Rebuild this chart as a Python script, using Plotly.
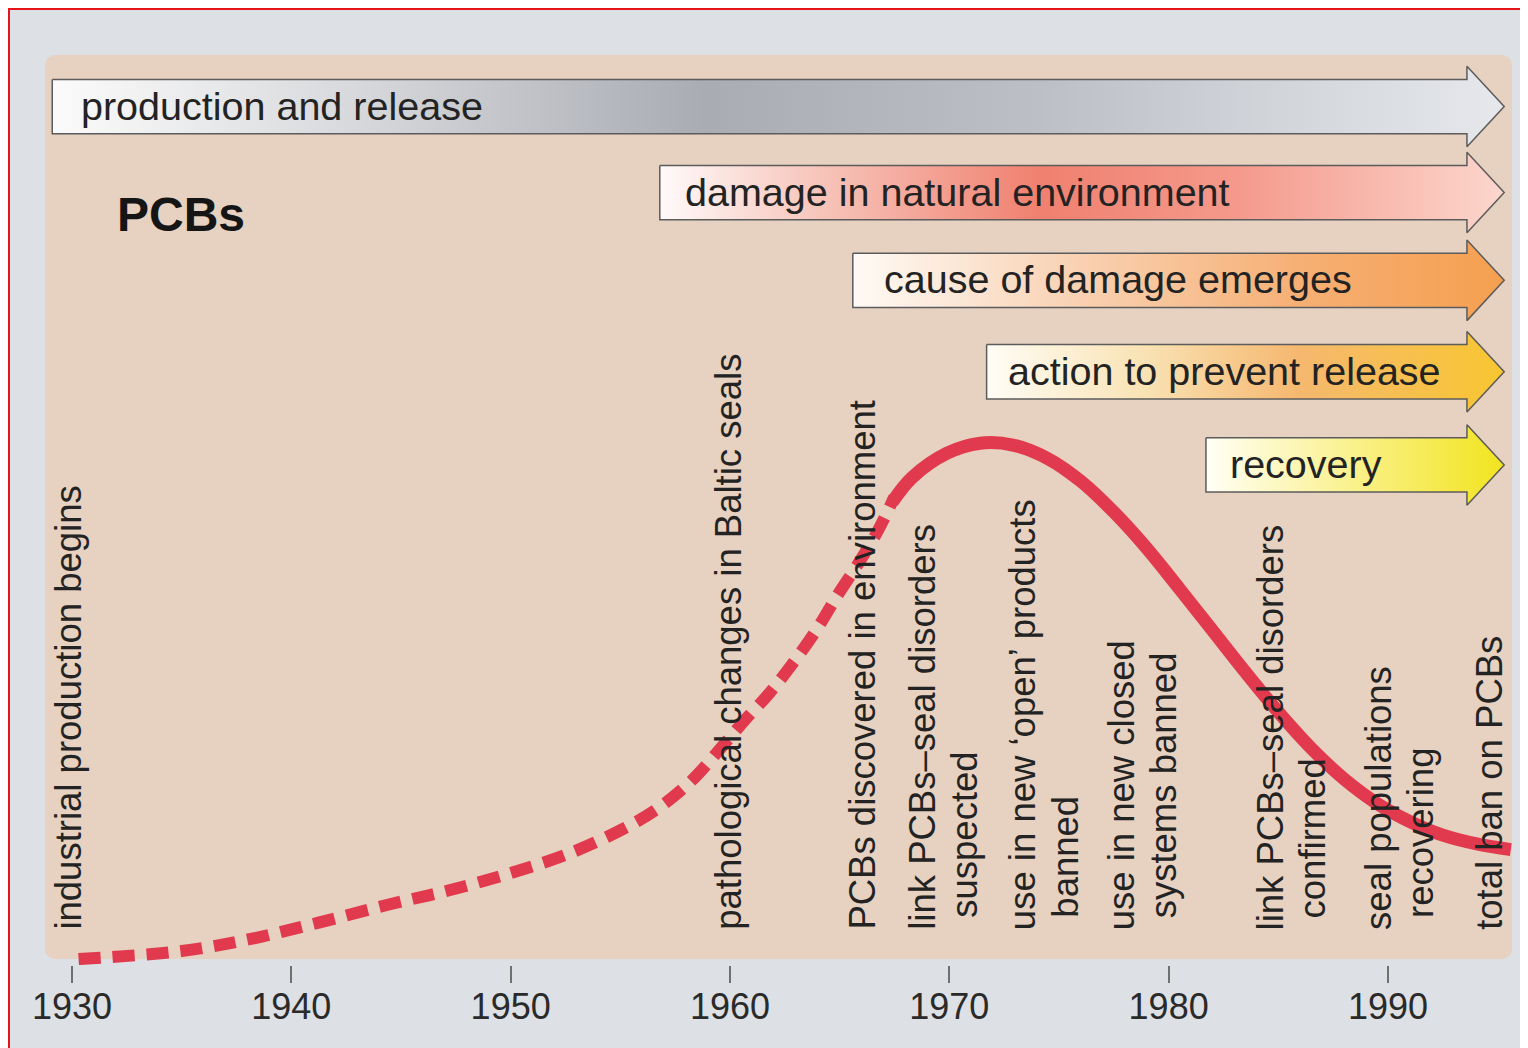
import plotly.graph_objects as go

# ---------------- data ----------------
# emission curve (relative level, 0-100) – dashed (estimated) part
dash_years = [1930.3, 1935.0, 1938.1, 1941.2, 1944.4, 1947.2, 1950.0, 1952.7, 1955.3, 1956.8,
              1958.2, 1959.4, 1960.6, 1961.8, 1962.9, 1964.0, 1964.9, 1965.9, 1966.8, 1967.5]
dash_levels = [0.1, 1.0, 2.3, 4.1, 6.1, 7.7, 9.6, 11.8, 14.7, 16.9,
               19.7, 22.9, 26.3, 29.5, 32.9, 36.7, 40.3, 44.0, 47.7, 51.2]
# measured (solid) part
solid_years = [1967.4, 1968.3, 1969.9, 1971.4, 1972.9, 1974.5, 1976.0, 1977.5, 1979.0, 1980.5,
               1982.0, 1983.5, 1985.0, 1986.5, 1988.0, 1989.5, 1991.0, 1992.5, 1994.1, 1995.6]
solid_levels = [50.6, 53.3, 56.0, 57.1, 56.9, 55.4, 52.9, 49.5, 45.5, 41.0,
                36.4, 31.8, 27.4, 23.4, 20.0, 17.3, 15.3, 13.8, 12.8, 12.2]

# phase arrows
arrow_labels = ["production and release", "damage in natural environment",
                "cause of damage emerges", "action to prevent release", "recovery"]
arrow_start_years = [1929.1, 1956.8, 1965.6, 1971.7, 1981.7]
arrow_levels = [94.3, 84.8, 75.1, 65.0, 54.7]
arrow_head_year = 1993.6
arrow_tip_year = 1995.3

# event labels (year of label centre)
event_years = [1929.8, 1959.9, 1966.0, 1969.7, 1974.3, 1978.8, 1985.6, 1990.5, 1994.6]
event_texts = ["industrial production begins",
               "pathological changes in Baltic seals",
               "PCBs discovered in environment",
               "link PCBs\u2013seal disorders\nsuspected",
               "use in new \u2018open\u2019 products\nbanned",
               "use in new closed\nsystems banned",
               "link PCBs\u2013seal disorders\nconfirmed",
               "seal populations\nrecovering",
               "total ban on PCBs"]

tick_years = [1930, 1940, 1950, 1960, 1970, 1980, 1990]
tick_labels = [str(y) for y in tick_years]

# ---------------- styles ----------------
arrow_colorscales = [
    [[0, "#fbfbfb"], [0.2, "#d9dadd"], [0.45, "#a9acb3"], [0.68, "#bcc0c6"], [1, "#e6e8ec"]],
    [[0, "#fffafa"], [0.15, "#f8cfc6"], [0.45, "#f0806f"], [0.68, "#f4998b"], [1, "#fcd6cd"]],
    [[0, "#fffaf5"], [0.3, "#f9d6bb"], [0.7, "#f6ae72"], [1, "#f5a050"]],
    [[0, "#fffdf5"], [0.3, "#f9e3b5"], [0.6, "#f5b870"], [1, "#f8c630"]],
    [[0, "#fffff5"], [0.4, "#fbf3a0"], [1, "#f2e41e"]],
]
arrow_text_offsets = [27, 23, 29, 19, 22]
FONT = "Liberation Sans, Arial, Helvetica, sans-serif"
TEXT_COLOR = "#232323"
CURVE_COLOR = "#e13a4e"
BEIGE = "#e7d1c0"
GRAY = "#dde0e4"
BODY_HALF = 3.0
HEAD_HALF = 4.45

# page offset (browser body margin) = 8 px
OFF = 8
W, H = 1520, 1040
ML, MR, MT, MB = 45 - OFF, 1528 - 1512, 55 - OFF, 1048 - 965
PW, PH = W - ML - MR, H - MT - MB
X0_YEAR = 1930 - 27 / 21.933
X1_YEAR = 1930 + (1512 - 72) / 21.933
PX_PER_LEVEL = 9.05
Y0_LEVEL = -(965 - 960) / PX_PER_LEVEL
Y1_LEVEL = (960 - 55) / PX_PER_LEVEL


def xp(px):  # page px -> paper x
    return (px - OFF - ML) / PW


def yp(py):  # page py -> paper y
    return (H + OFF - MB - py) / PH


fig = go.Figure()

# arrows
for lbl, x0, c, cs, off in zip(arrow_labels, arrow_start_years, arrow_levels,
                               arrow_colorscales, arrow_text_offsets):
    xs = [x0, arrow_head_year, arrow_head_year, arrow_tip_year, arrow_head_year,
          arrow_head_year, x0, x0]
    ys = [c + BODY_HALF, c + BODY_HALF, c + HEAD_HALF, c, c - HEAD_HALF,
          c - BODY_HALF, c - BODY_HALF, c + BODY_HALF]
    fig.add_trace(go.Scatter(
        x=xs, y=ys, mode="lines", fill="toself",
        fillgradient=dict(type="horizontal", colorscale=cs),
        line=dict(color="#5c5c5c", width=1.5),
        hoverinfo="skip", showlegend=False))
    fig.add_annotation(x=x0, y=c, text=lbl, showarrow=False, xanchor="left",
                       yanchor="middle", xshift=off, yshift=1,
                       font=dict(family=FONT, size=39.5, color=TEXT_COLOR))

# curve
fig.add_trace(go.Scatter(x=dash_years, y=dash_levels, mode="lines",
                         line=dict(color=CURVE_COLOR, width=12, dash="22px,12px", shape="spline"),
                         hoverinfo="skip", showlegend=False))
fig.add_trace(go.Scatter(x=solid_years, y=solid_levels, mode="lines",
                         line=dict(color=CURVE_COLOR, width=13, shape="spline"),
                         hoverinfo="skip", showlegend=False))

# event labels (vertical)
LINE_GAP = 42
for yr, txt in zip(event_years, event_texts):
    lines = txt.split("\n")
    n = len(lines)
    for i, ln in enumerate(lines):
        fig.add_annotation(x=yr, y=(960 - 932) / PX_PER_LEVEL, text=ln, showarrow=False,
                           textangle=-90, xanchor="center", yanchor="bottom",
                           xshift=(i - (n - 1) / 2) * LINE_GAP, yshift=12 * i,
                           font=dict(family=FONT, size=36.5, color=TEXT_COLOR))

# title
fig.add_annotation(x=xp(115), y=yp(214), xref="paper", yref="paper", text="<b>PCBs</b>",
                   showarrow=False, xanchor="left", yanchor="middle",
                   font=dict(family=FONT, size=48, color="#151515"))

# beige panel with rounded corners
bx0, bx1, by0, by1, r = xp(45), xp(1512), yp(959), yp(55), 12
rx, ry = r / PW, r / PH
panel_path = (f"M {bx0 + rx},{by0} L {bx1 - rx},{by0} Q {bx1},{by0} {bx1},{by0 + ry} "
              f"L {bx1},{by1 - ry} Q {bx1},{by1} {bx1 - rx},{by1} "
              f"L {bx0 + rx},{by1} Q {bx0},{by1} {bx0},{by1 - ry} "
              f"L {bx0},{by0 + ry} Q {bx0},{by0} {bx0 + rx},{by0} Z")

shapes = [
    dict(type="path", xref="paper", yref="paper", path=panel_path, fillcolor=BEIGE,
         line=dict(width=0), layer="below"),
    dict(type="line", xref="paper", yref="paper", x0=xp(9), x1=xp(9), y0=yp(8), y1=yp(1048),
         line=dict(color="#e8141c", width=2)),
    dict(type="line", xref="paper", yref="paper", x0=xp(8), x1=xp(1528), y0=yp(9), y1=yp(9),
         line=dict(color="#e8141c", width=2)),
    dict(type="line", xref="paper", yref="paper", x0=xp(1527), x1=xp(1527), y0=yp(8), y1=yp(1048),
         line=dict(color="#e8141c", width=2)),
]

fig.update_layout(
    width=W, height=H,
    margin=dict(l=ML, r=MR, t=MT, b=MB, pad=0),
    paper_bgcolor=GRAY,
    plot_bgcolor=GRAY,
    shapes=shapes,
    showlegend=False,
    xaxis=dict(range=[X0_YEAR, X1_YEAR], tickvals=tick_years, ticktext=tick_labels,
               ticks="outside", ticklen=17, tickwidth=1.5, tickcolor="#707070",
               ticklabelstandoff=-7,
               tickfont=dict(family=FONT, size=36, color="#2a2a2a"),
               showgrid=False, zeroline=False, showline=False, fixedrange=True),
    yaxis=dict(range=[Y0_LEVEL, Y1_LEVEL], visible=False, showgrid=False, zeroline=False,
               fixedrange=True),
)

fig.write_html("out.html")
